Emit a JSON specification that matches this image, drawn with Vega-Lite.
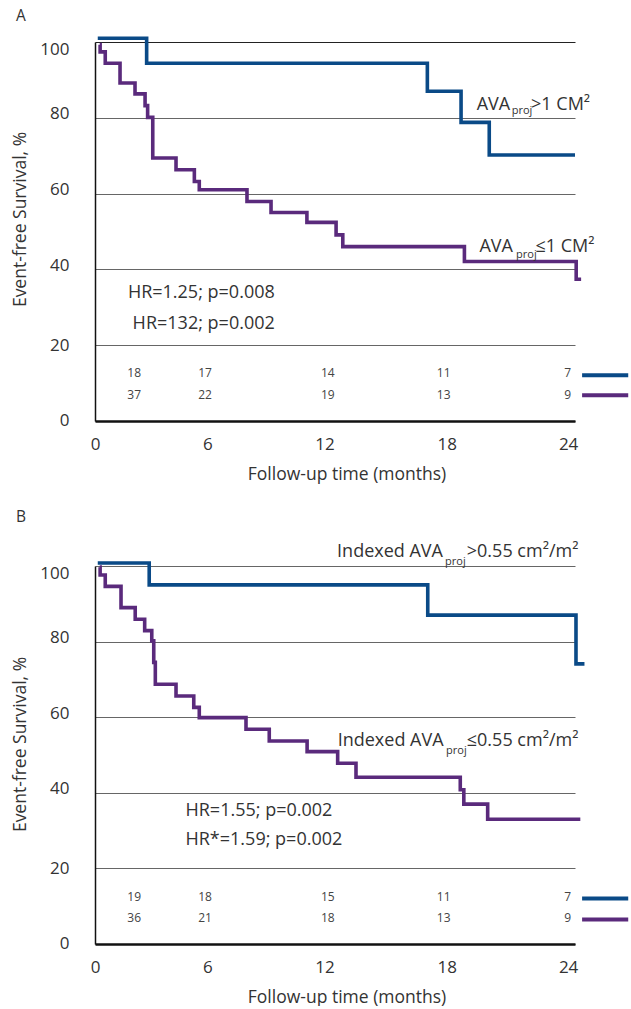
{
  "$schema": "https://vega.github.io/schema/vega-lite/v6.json",
  "padding": {"left": 11, "top": 9, "right": 0, "bottom": 0},
  "background": "white",
  "bounds": "flush",
  "spacing": 145,
  "config": {
    "font": "Open Sans",
    "view": {"stroke": null},
    "axis": {"labelFont": "Open Sans", "titleFont": "Open Sans", "labelColor": "#333", "titleColor": "#333", "titleFontWeight": "normal", "labelFlush": false, "ticks": false, "domainColor": "#111"},
    "title": {"font": "Open Sans", "fontWeight": "normal", "color": "#333", "fontSize": 15.5}
  },
  "datasets": {
    "curves": [
      {"p": "A", "g": "hi", "x": 0.14, "y": 101},
      {"p": "A", "g": "hi", "x": 2.62, "y": 94.4},
      {"p": "A", "g": "hi", "x": 16.86, "y": 87.0},
      {"p": "A", "g": "hi", "x": 18.57, "y": 78.8},
      {"p": "A", "g": "hi", "x": 20.0, "y": 70.2},
      {"p": "A", "g": "hi", "x": 24.35, "y": 70.2},
      {"p": "A", "g": "lo", "x": 0.24, "y": 99.3},
      {"p": "A", "g": "lo", "x": 0.26, "y": 97.4},
      {"p": "A", "g": "lo", "x": 0.52, "y": 94.4},
      {"p": "A", "g": "lo", "x": 1.27, "y": 89.2},
      {"p": "A", "g": "lo", "x": 2.03, "y": 86.3},
      {"p": "A", "g": "lo", "x": 2.54, "y": 83.2},
      {"p": "A", "g": "lo", "x": 2.67, "y": 80.1},
      {"p": "A", "g": "lo", "x": 2.93, "y": 69.4},
      {"p": "A", "g": "lo", "x": 4.11, "y": 66.3},
      {"p": "A", "g": "lo", "x": 5.04, "y": 63.2},
      {"p": "A", "g": "lo", "x": 5.29, "y": 61.0},
      {"p": "A", "g": "lo", "x": 7.71, "y": 57.9},
      {"p": "A", "g": "lo", "x": 8.93, "y": 55.0},
      {"p": "A", "g": "lo", "x": 10.75, "y": 52.4},
      {"p": "A", "g": "lo", "x": 12.23, "y": 49.1},
      {"p": "A", "g": "lo", "x": 12.57, "y": 46.0},
      {"p": "A", "g": "lo", "x": 18.74, "y": 42.1},
      {"p": "A", "g": "lo", "x": 24.41, "y": 37.4},
      {"p": "A", "g": "lo", "x": 24.66, "y": 37.4},
      {"p": "B", "g": "hi", "x": 0.14, "y": 100.8},
      {"p": "B", "g": "hi", "x": 2.75, "y": 95.0},
      {"p": "B", "g": "hi", "x": 16.88, "y": 87.0},
      {"p": "B", "g": "hi", "x": 24.4, "y": 74.1},
      {"p": "B", "g": "hi", "x": 24.83, "y": 74.1},
      {"p": "B", "g": "lo", "x": 0.24, "y": 99.7},
      {"p": "B", "g": "lo", "x": 0.26, "y": 97.6},
      {"p": "B", "g": "lo", "x": 0.52, "y": 94.6},
      {"p": "B", "g": "lo", "x": 1.32, "y": 89.0},
      {"p": "B", "g": "lo", "x": 2.04, "y": 85.9},
      {"p": "B", "g": "lo", "x": 2.52, "y": 82.9},
      {"p": "B", "g": "lo", "x": 2.88, "y": 80.2},
      {"p": "B", "g": "lo", "x": 2.98, "y": 74.5},
      {"p": "B", "g": "lo", "x": 3.06, "y": 68.7},
      {"p": "B", "g": "lo", "x": 4.11, "y": 65.6},
      {"p": "B", "g": "lo", "x": 5.01, "y": 62.6},
      {"p": "B", "g": "lo", "x": 5.29, "y": 59.9},
      {"p": "B", "g": "lo", "x": 7.66, "y": 56.8},
      {"p": "B", "g": "lo", "x": 8.84, "y": 53.7},
      {"p": "B", "g": "lo", "x": 10.76, "y": 50.9},
      {"p": "B", "g": "lo", "x": 12.31, "y": 47.8},
      {"p": "B", "g": "lo", "x": 13.24, "y": 44.1},
      {"p": "B", "g": "lo", "x": 18.53, "y": 40.8},
      {"p": "B", "g": "lo", "x": 18.71, "y": 37.0},
      {"p": "B", "g": "lo", "x": 19.92, "y": 33.0},
      {"p": "B", "g": "lo", "x": 24.62, "y": 33.0}
    ],
    "risk": [
      {"p": "A", "x": 1.99, "y": 12.54, "t": "18"},
      {"p": "A", "x": 5.58, "y": 12.54, "t": "17"},
      {"p": "A", "x": 11.81, "y": 12.54, "t": "14"},
      {"p": "A", "x": 17.69, "y": 12.54, "t": "11"},
      {"p": "A", "x": 23.98, "y": 12.54, "t": "7"},
      {"p": "A", "x": 1.99, "y": 6.9, "t": "37"},
      {"p": "A", "x": 5.58, "y": 6.9, "t": "22"},
      {"p": "A", "x": 11.81, "y": 6.9, "t": "19"},
      {"p": "A", "x": 17.69, "y": 6.9, "t": "13"},
      {"p": "A", "x": 23.98, "y": 6.9, "t": "9"},
      {"p": "B", "x": 1.99, "y": 12.45, "t": "19"},
      {"p": "B", "x": 5.58, "y": 12.45, "t": "18"},
      {"p": "B", "x": 11.81, "y": 12.45, "t": "15"},
      {"p": "B", "x": 17.69, "y": 12.45, "t": "11"},
      {"p": "B", "x": 23.98, "y": 12.45, "t": "7"},
      {"p": "B", "x": 1.99, "y": 6.77, "t": "36"},
      {"p": "B", "x": 5.58, "y": 6.77, "t": "21"},
      {"p": "B", "x": 11.81, "y": 6.77, "t": "18"},
      {"p": "B", "x": 17.69, "y": 6.77, "t": "13"},
      {"p": "B", "x": 23.98, "y": 6.77, "t": "9"}
    ],
    "keys": [
      {"p": "A", "g": "hi", "x": 24.71, "x2": 27.05, "y": 12.07},
      {"p": "A", "g": "lo", "x": 24.71, "x2": 27.05, "y": 6.79},
      {"p": "B", "g": "hi", "x": 24.71, "x2": 27.05, "y": 12.05},
      {"p": "B", "g": "lo", "x": 24.71, "x2": 27.05, "y": 6.5}
    ],
    "hr": [
      {"p": "A", "x": 9.12, "y": 33.7, "t": "HR=1.25; p=0.008"},
      {"p": "A", "x": 9.12, "y": 25.5, "t": "HR=132; p=0.002"},
      {"p": "B", "x": 4.59, "y": 35.2, "t": "HR=1.55; p=0.002"},
      {"p": "B", "x": 4.59, "y": 27.4, "t": "HR*=1.59; p=0.002"}
    ],
    "labels": [
      {"p": "A", "k": "main", "x": 19.36, "y": 82.1, "t": "AVA"},
      {"p": "A", "k": "sub", "x": 21.14, "y": 80.9, "t": "proj"},
      {"p": "A", "k": "main", "x": 22.12, "y": 82.1, "t": ">1 CM²"},
      {"p": "A", "k": "main", "x": 19.5, "y": 44.55, "t": "AVA"},
      {"p": "A", "k": "sub", "x": 21.36, "y": 43.0, "t": "proj"},
      {"p": "A", "k": "main", "x": 22.34, "y": 44.55, "t": "≤1 CM²"},
      {"p": "B", "k": "main", "x": 12.28, "y": 102.5, "t": "Indexed AVA"},
      {"p": "B", "k": "sub", "x": 17.76, "y": 100.2, "t": "proj"},
      {"p": "B", "k": "main", "x": 18.86, "y": 102.5, "t": ">0.55 cm²/m²"},
      {"p": "B", "k": "main", "x": 12.31, "y": 52.4, "t": "Indexed AVA"},
      {"p": "B", "k": "sub", "x": 17.81, "y": 50.3, "t": "proj"},
      {"p": "B", "k": "main", "x": 18.86, "y": 52.4, "t": "≤0.55 cm²/m²"}
    ]
  },
  "vconcat": [
    {
      "title": {"text": "A", "anchor": "start", "frame": "group", "dx": -79, "offset": -5.5, "baseline": "alphabetic"},
      "width": 480,
      "height": 379,
      "encoding": {
        "x": {"field": "x", "type": "quantitative", "scale": {"domain": [0, 24.35], "nice": false, "zero": false},
          "axis": {"values": [0, 6, 12, 18, 24], "title": "Follow-up time (months)", "grid": false, "domainWidth": 2.5, "labelFontSize": 17, "labelPadding": 15,
            "labelOffset": {"condition": [{"test": "datum.value === 6", "value": -6}, {"test": "datum.value === 12", "value": -7}, {"test": "datum.value === 18", "value": -3}], "value": 0},
            "titleFontSize": 17.5, "titlePadding": 13, "titleX": 251.5}},
        "y": {"field": "y", "type": "quantitative", "scale": {"domain": [0, 100], "nice": false},
          "axis": {"values": [0, 20, 40, 60, 80, 100], "title": "Event-free Survival, %", "grid": true,
            "gridColor": {"condition": {"test": "datum.value === 100", "value": "#222"}, "value": "#666"}, "gridWidth": 1, "domainWidth": 1.5, "labelFontSize": 17, "labelPadding": 26,
            "labelOffset": {"condition": [{"test": "datum.value === 100", "value": 7.5}, {"test": "datum.value >= 40 && datum.value <= 80", "value": -4}, {"test": "datum.value === 0", "value": -1}], "value": 0},
            "titleFontSize": 17.5, "titlePadding": 10, "titleY": 177}}
      },
      "layer": [
        {"data": {"name": "curves"}, "transform": [{"filter": "datum.p === 'A'"}],
          "mark": {"type": "line", "interpolate": "step-after", "strokeWidth": 3.6, "strokeJoin": "miter", "strokeCap": "butt"},
          "encoding": {"color": {"field": "g", "type": "nominal", "scale": {"domain": ["hi", "lo"], "range": ["#0a4a87", "#5a2a7c"]}, "legend": null}}},
        {"data": {"name": "keys"}, "transform": [{"filter": "datum.p === 'A'"}],
          "mark": {"type": "rule", "strokeWidth": 4, "strokeCap": "butt"},
          "encoding": {"x2": {"field": "x2"}, "color": {"field": "g", "type": "nominal", "legend": null}}},
        {"data": {"name": "risk"}, "transform": [{"filter": "datum.p === 'A'"}],
          "mark": {"type": "text", "fontSize": 12, "color": "#444", "align": "center", "baseline": "middle"},
          "encoding": {"text": {"field": "t"}}},
        {"data": {"name": "hr"}, "transform": [{"filter": "datum.p === 'A'"}],
          "mark": {"type": "text", "fontSize": 18, "color": "#333", "align": "right", "baseline": "middle"},
          "encoding": {"text": {"field": "t"}}},
        {"data": {"name": "labels"}, "transform": [{"filter": "datum.p === 'A' && datum.k === 'main'"}],
          "mark": {"type": "text", "fontSize": 18, "color": "#333", "align": "left", "baseline": "alphabetic"},
          "encoding": {"text": {"field": "t"}}},
        {"data": {"name": "labels"}, "transform": [{"filter": "datum.p === 'A' && datum.k === 'sub'"}],
          "mark": {"type": "text", "fontSize": 11, "color": "#333", "align": "left", "baseline": "alphabetic"},
          "encoding": {"text": {"field": "t"}}}
      ]
    },
    {
      "title": {"text": "B", "anchor": "start", "frame": "group", "dx": -79, "offset": 5.2, "baseline": "alphabetic"},
      "width": 480,
      "height": 378,
      "encoding": {
        "x": {"field": "x", "type": "quantitative", "scale": {"domain": [0, 24.35], "nice": false, "zero": false},
          "axis": {"values": [0, 6, 12, 18, 24], "title": "Follow-up time (months)", "grid": false, "domainWidth": 2.5, "labelFontSize": 17, "labelPadding": 15,
            "labelOffset": {"condition": [{"test": "datum.value === 6", "value": -6}, {"test": "datum.value === 12", "value": -7}, {"test": "datum.value === 18", "value": -3}], "value": 0},
            "titleFontSize": 17.5, "titlePadding": 13, "titleX": 251.5}},
        "y": {"field": "y", "type": "quantitative", "scale": {"domain": [0, 100], "nice": false},
          "axis": {"values": [0, 20, 40, 60, 80, 100], "title": "Event-free Survival, %", "grid": true,
            "gridColor": "#666", "gridWidth": 1, "domainWidth": 1.5, "labelFontSize": 17, "labelPadding": 26,
            "labelOffset": {"condition": [{"test": "datum.value === 100", "value": 7.5}, {"test": "datum.value >= 40 && datum.value <= 80", "value": -4}, {"test": "datum.value === 0", "value": -1}], "value": 0},
            "titleFontSize": 17.5, "titlePadding": 10, "titleY": 178}}
      },
      "layer": [
        {"data": {"name": "curves"}, "transform": [{"filter": "datum.p === 'B'"}],
          "mark": {"type": "line", "interpolate": "step-after", "strokeWidth": 3.6, "strokeJoin": "miter", "strokeCap": "butt"},
          "encoding": {"color": {"field": "g", "type": "nominal", "scale": {"domain": ["hi", "lo"], "range": ["#0a4a87", "#5a2a7c"]}, "legend": null}}},
        {"data": {"name": "keys"}, "transform": [{"filter": "datum.p === 'B'"}],
          "mark": {"type": "rule", "strokeWidth": 4, "strokeCap": "butt"},
          "encoding": {"x2": {"field": "x2"}, "color": {"field": "g", "type": "nominal", "legend": null}}},
        {"data": {"name": "risk"}, "transform": [{"filter": "datum.p === 'B'"}],
          "mark": {"type": "text", "fontSize": 12, "color": "#444", "align": "center", "baseline": "middle"},
          "encoding": {"text": {"field": "t"}}},
        {"data": {"name": "hr"}, "transform": [{"filter": "datum.p === 'B'"}],
          "mark": {"type": "text", "fontSize": 18, "color": "#333", "align": "left", "baseline": "middle"},
          "encoding": {"text": {"field": "t"}}},
        {"data": {"name": "labels"}, "transform": [{"filter": "datum.p === 'B' && datum.k === 'main'"}],
          "mark": {"type": "text", "fontSize": 18, "color": "#333", "align": "left", "baseline": "alphabetic"},
          "encoding": {"text": {"field": "t"}}},
        {"data": {"name": "labels"}, "transform": [{"filter": "datum.p === 'B' && datum.k === 'sub'"}],
          "mark": {"type": "text", "fontSize": 11, "color": "#333", "align": "left", "baseline": "alphabetic"},
          "encoding": {"text": {"field": "t"}}}
      ]
    }
  ]
}
